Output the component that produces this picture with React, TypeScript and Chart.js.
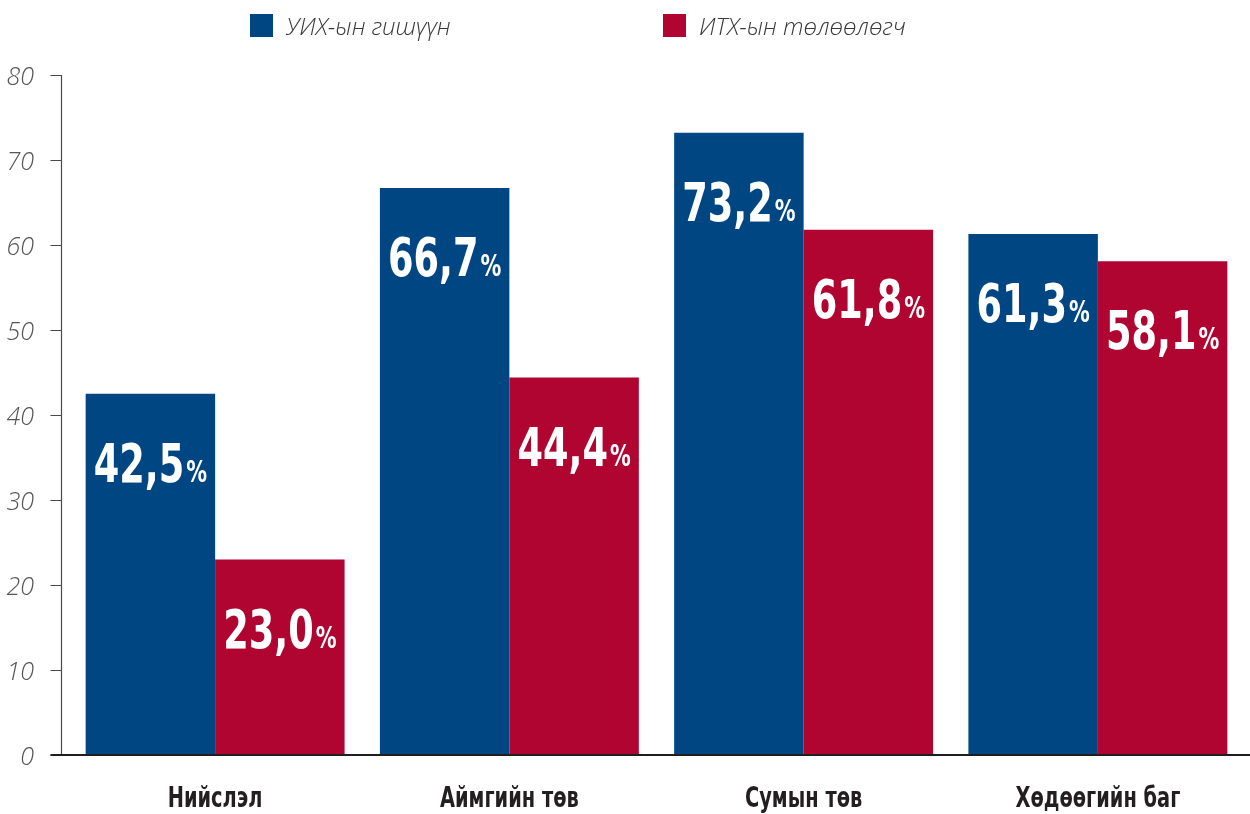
import React, { useEffect, useRef } from "react";
import { Chart, registerables } from "chart.js";

Chart.register(...registerables);

const categories = ["Нийслэл", "Аймгийн төв", "Сумын төв", "Хөдөөгийн баг"];
const seriesNames = ["УИХ-ын гишүүн", "ИТХ-ын төлөөлөгч"];
const uihValues = [42.5, 66.7, 73.2, 61.3];
const ithValues = [23.0, 44.4, 61.8, 58.1];
const seriesColors = ["#004683", "#B00530"];
const yMin = 0;
const yMax = 80;
const yStep = 10;

const BOLD_FONT = "'DejaVu Sans Condensed', 'DejaVu Sans', sans-serif";
const LIGHT_FONT = "'Open Sans', 'Noto Sans', sans-serif";
const CONDENSE = 0.77;

function fillCondensed(ctx: CanvasRenderingContext2D, text: string, x: number, y: number, s: number) {
  ctx.save();
  ctx.translate(x, y);
  ctx.scale(s, 1);
  ctx.fillText(text, 0, 0);
  ctx.restore();
}

const axesPlugin = {
  id: "customAxes",
  afterDraw(chart: any) {
    const ctx = chart.ctx;
    const y = chart.scales.y;
    const x = chart.scales.x;
    const x0 = Math.round(chart.chartArea.left - 7) + 0.5;
    const top = y.getPixelForValue(y.max);
    const bottom = y.getPixelForValue(y.min);
    ctx.save();
    ctx.strokeStyle = "#4a4a4a";
    ctx.lineWidth = 1.2;
    ctx.beginPath();
    ctx.moveTo(x0, top);
    ctx.lineTo(x0, bottom);
    y.ticks.forEach((t: any) => {
      const py = Math.round(y.getPixelForValue(t.value)) + 0.5;
      ctx.moveTo(x0 - 11, py);
      ctx.lineTo(x0, py);
    });
    ctx.stroke();
    ctx.strokeStyle = "#1e1e1e";
    ctx.lineWidth = 2;
    ctx.beginPath();
    ctx.moveTo(x0 - 11, Math.round(bottom));
    ctx.lineTo(chart.width, Math.round(bottom));
    ctx.stroke();

    // category labels (condensed bold)
    ctx.fillStyle = "#231f20";
    ctx.textBaseline = "alphabetic";
    ctx.textAlign = "center";
    ctx.font = `bold 28px ${BOLD_FONT}`;
    (chart.data.labels as string[]).forEach((lab, i) => {
      const px = x.getPixelForValue(i);
      fillCondensed(ctx, lab, px, bottom + 52, CONDENSE);
    });
    ctx.restore();
  },
};

const valueLabelPlugin = {
  id: "valueLabels",
  afterDatasetsDraw(chart: any) {
    const ctx = chart.ctx;
    ctx.save();
    ctx.fillStyle = "#ffffff";
    ctx.textBaseline = "alphabetic";
    ctx.textAlign = "left";
    const big = `bold 53px ${BOLD_FONT}`;
    const small = `bold 30px ${BOLD_FONT}`;
    chart.data.datasets.forEach((ds: any, di: number) => {
      const meta = chart.getDatasetMeta(di);
      meta.data.forEach((bar: any, i: number) => {
        const v = ds.data[i] as number;
        const num = v.toFixed(1).replace(".", ",");
        ctx.font = big;
        const w1 = ctx.measureText(num).width * CONDENSE;
        ctx.font = small;
        const w2 = ctx.measureText("%").width * CONDENSE;
        const gap = 2;
        const start = bar.x - (w1 + gap + w2) / 2;
        const base = bar.y + 88;
        ctx.font = big;
        fillCondensed(ctx, num, start, base, CONDENSE);
        ctx.font = small;
        fillCondensed(ctx, "%", start + w1 + gap, base, CONDENSE);
      });
    });
    ctx.restore();
  },
};

export default function App() {
  const canvasRef = useRef<HTMLCanvasElement | null>(null);

  useEffect(() => {
    if (!canvasRef.current) return;
    const chart = new Chart(canvasRef.current, {
      type: "bar",
      data: {
        labels: categories,
        datasets: [
          {
            label: seriesNames[0],
            data: uihValues,
            backgroundColor: seriesColors[0],
            borderWidth: 0,
            categoryPercentage: 0.88,
            barPercentage: 1,
          },
          {
            label: seriesNames[1],
            data: ithValues,
            backgroundColor: seriesColors[1],
            borderWidth: 0,
            categoryPercentage: 0.88,
            barPercentage: 1,
          },
        ],
      },
      options: {
        animation: false,
        responsive: false,
        maintainAspectRatio: false,
        layout: { padding: { top: 75, right: 5, left: 0, bottom: 0 } },
        plugins: {
          legend: { display: false },
          tooltip: { enabled: false },
        },
        scales: {
          x: {
            grid: { display: false, drawTicks: false },
            border: { display: false },
            ticks: { display: false },
            afterFit: (s: any) => {
              s.height = 59;
            },
          },
          y: {
            min: yMin,
            max: yMax,
            grid: { display: false, drawTicks: false },
            border: { display: false },
            ticks: {
              stepSize: yStep,
              padding: 34,
              labelOffset: 3,
              color: "#555555",
              font: { family: LIGHT_FONT, size: 25, style: "italic", weight: "300" },
            },
            afterFit: (s: any) => {
              s.width = 68;
            },
          },
        },
      },
      plugins: [axesPlugin, valueLabelPlugin],
    });
    return () => chart.destroy();
  }, []);

  return (
    <div style={{ position: "absolute", left: 0, top: 0, width: 1250, height: 814, background: "#fff" }}>
      <canvas ref={canvasRef} width={1250} height={814} style={{ display: "block" }} />
      <div
        style={{
          position: "absolute",
          left: 250,
          top: 14,
          display: "flex",
          alignItems: "center",
          fontFamily: LIGHT_FONT,
          fontStyle: "italic",
          fontWeight: 300,
          fontSize: 24,
          color: "#3a3a3a",
        }}
      >
        {seriesNames.map((name, i) => (
          <div key={name} style={{ display: "flex", alignItems: "center", width: i === 0 ? 413 : "auto" }}>
            <span style={{ display: "inline-block", width: 23, height: 23, background: seriesColors[i] }} />
            <span style={{ marginLeft: 13, lineHeight: "23px", whiteSpace: "nowrap" }}>{name}</span>
          </div>
        ))}
      </div>
    </div>
  );
}
